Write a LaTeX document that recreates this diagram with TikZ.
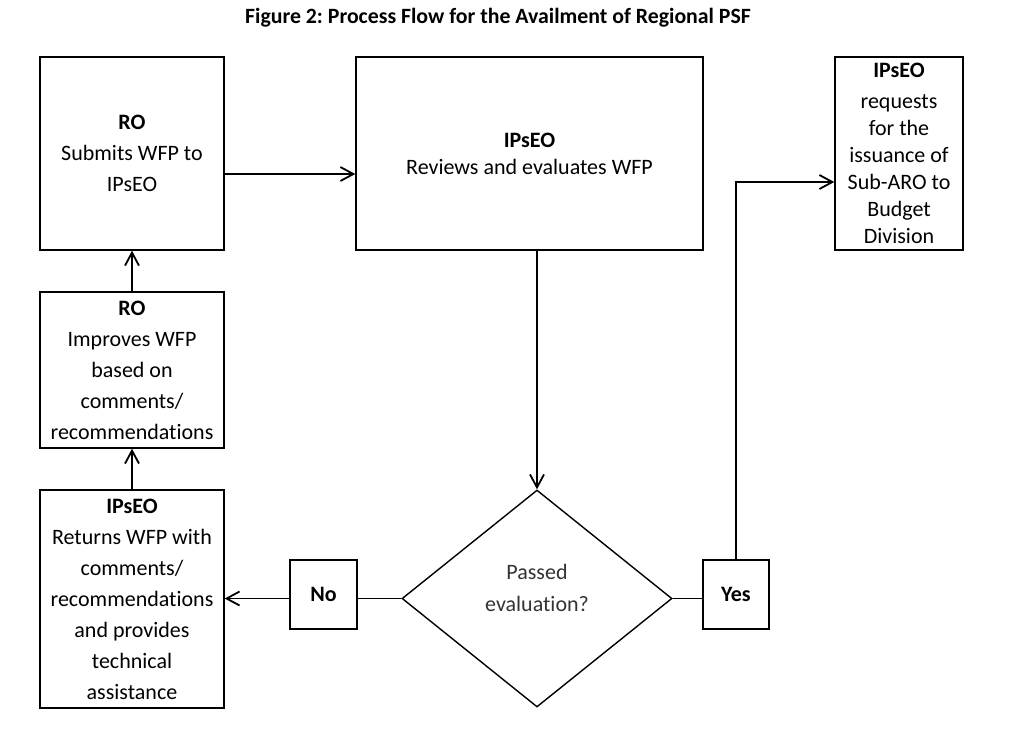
\documentclass[tikz,border=0pt]{standalone}
\usepackage{fontspec}
\setmainfont{Carlito}[Ligatures=NoCommon]
\usetikzlibrary{shapes.geometric,arrows.meta}
\frenchspacing

\begin{document}
\begin{tikzpicture}[x=0.5pt,y=-0.5pt,
  boite/.style={draw, line width=0.7pt, align=center, inner sep=0pt, font=\fontsize{11}{15.5}\selectfont},
  fleche/.style={line width=0.9pt, -{Straight Barb[length=6.5pt,width=7pt]}},
  trait/.style={line width=0.9pt}]
\useasboundingbox (0,0) rectangle (1012,741);

%Titre
\node[font=\bfseries\fontsize{10.9}{13}\selectfont] (titre) at (498,18) {Figure 2: Process Flow for the Availment of Regional PSF};

%Etapes
\node[boite, minimum width=92pt, minimum height=96.5pt] (soumet) at (132,153.5) {\textbf{RO}\\Submits WFP to\\IPsEO};
\node[boite, minimum width=173.5pt, minimum height=96.5pt, font=\fontsize{11}{13.5}\selectfont] (revue) at (529.5,153.5) {\textbf{IPsEO}\\Reviews and evaluates WFP};
\node[boite, minimum width=64pt, minimum height=96.5pt, font=\fontsize{11}{13.5}\selectfont] (demande) at (899,153.5) {\textbf{IPsEO}\\[2pt]requests\\for the\\issuance of\\Sub-ARO to\\Budget\\Division};
\node[boite, minimum width=92pt, minimum height=78pt] (ameliore) at (132,370) {\textbf{RO}\\Improves WFP\\based on\\comments/\\recommendations};
\node[boite, minimum width=92pt, minimum height=109pt] (retour) at (132,599) {\textbf{IPsEO}\\Returns WFP with\\comments/\\recommendations\\and provides\\technical\\assistance};

%Decision
\node[boite, diamond, minimum width=135pt, minimum height=108.5pt, text=black!80, font=\fontsize{11}{16}\selectfont] (decision) at (537,598.5) {Passed\\evaluation?\\[-5pt]\mbox{}};
\node[boite, minimum width=33.5pt, minimum height=34.5pt, font=\bfseries\fontsize{11}{13}\selectfont] (non) at (323.5,594.5) {No};
\node[boite, minimum width=33pt, minimum height=34.5pt, font=\bfseries\fontsize{11}{13}\selectfont] (oui) at (736,594.5) {Yes};

%Fleches
\draw[fleche] ([yshift=-10.25pt]soumet.east) -- ([yshift=-10.25pt]revue.west);
\draw[fleche] (revue.south -| decision.north) -- (decision.north);
\draw[trait] (decision.west) -- (decision.west -| non.east);
\draw[fleche] (non.west |- decision.west) -- (retour.east |- decision.west);
\draw[fleche] (retour.north) -- (ameliore.south);
\draw[fleche] (ameliore.north) -- (soumet.south);
\draw[trait] (decision.east) -- (decision.east -| oui.west);
\draw[fleche] (oui.north) |- ([yshift=-14.25pt]demande.west);

\end{tikzpicture}
\end{document}
